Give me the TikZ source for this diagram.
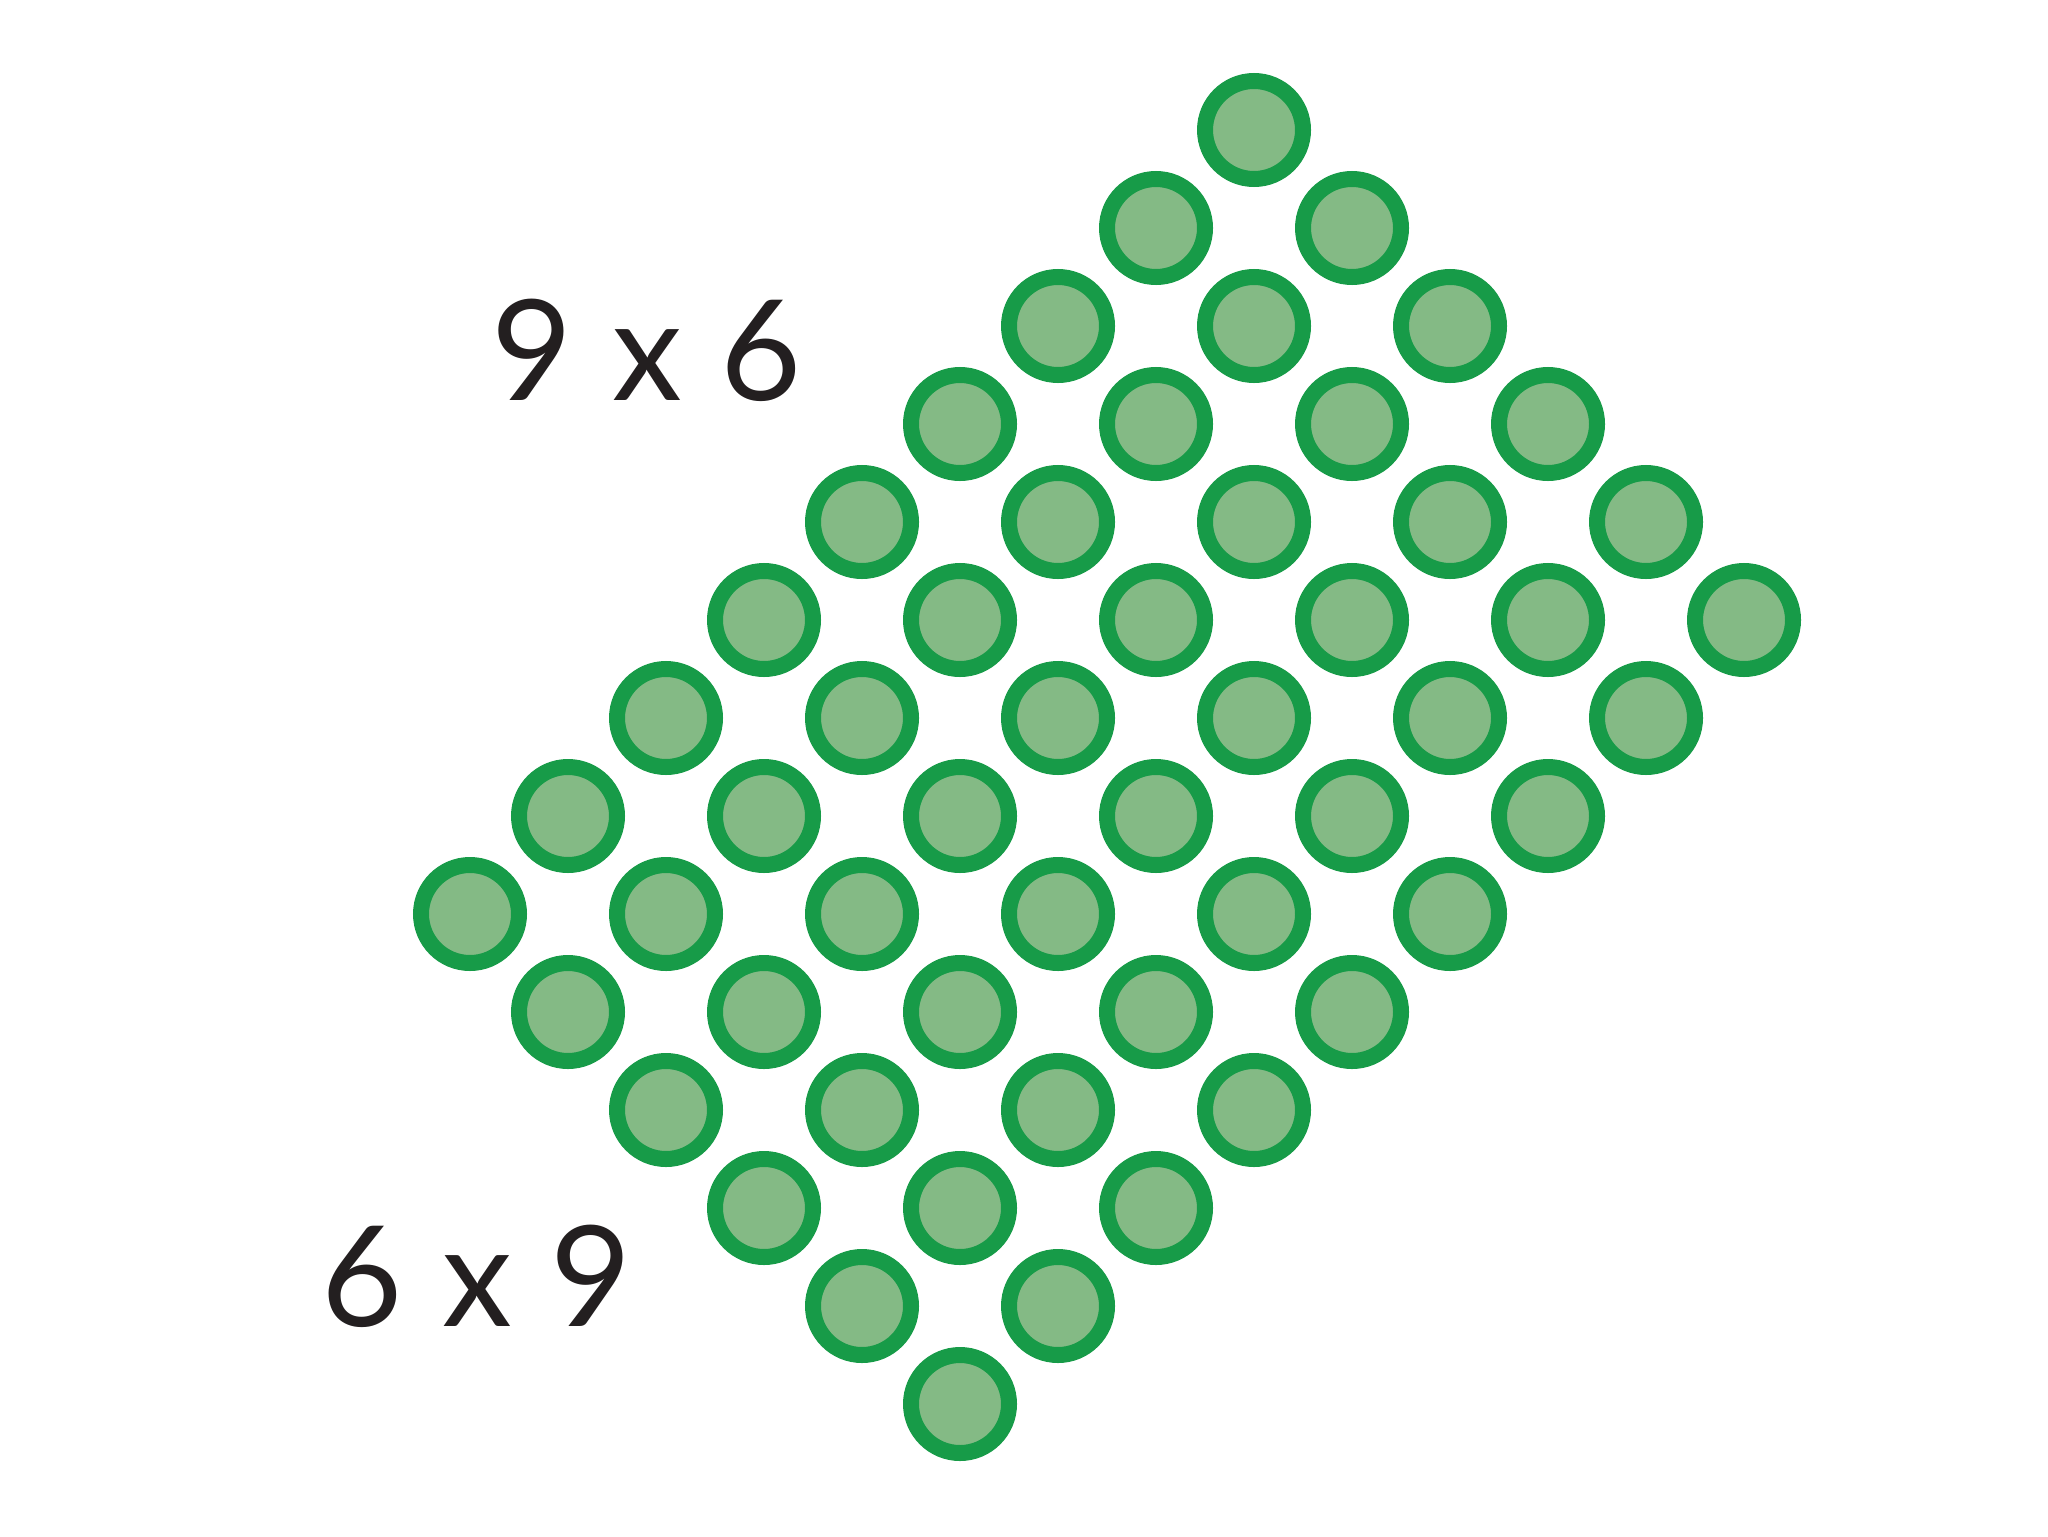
\documentclass[tikz,border=0pt]{standalone}
\usepackage{fontspec}
\setmainfont{Lato}
\definecolor{ringg}{HTML}{179B48}
\definecolor{fillg}{HTML}{84BA85}
\definecolor{txt}{HTML}{231F20}
\begin{document}
\begin{tikzpicture}[x=0.5pt,y=-0.5pt]
\tikzset{
  dot/.style={circle, draw=ringg, fill=fillg, line width=8pt, minimum size=49pt, inner sep=0pt},
  lbl/.style={text=txt, font=\fontsize{70}{70}\selectfont, inner sep=0pt, anchor=center}
}
\useasboundingbox (0,0) rectangle (2048,1536);
\foreach \i in {0,...,8}{
  \foreach \j in {0,...,5}{
    \node[dot] (c-\i-\j) at ({1254-98*\i+98*\j},{130+98*\i+98*\j}) {};
  }
}
\node[lbl] (t1) at (647,350) {9\hspace{0.28em}x\hspace{0.28em}6};
\node[lbl] (t2) at (477,1276) {6\hspace{0.28em}x\hspace{0.28em}9};
\end{tikzpicture}
\end{document}
